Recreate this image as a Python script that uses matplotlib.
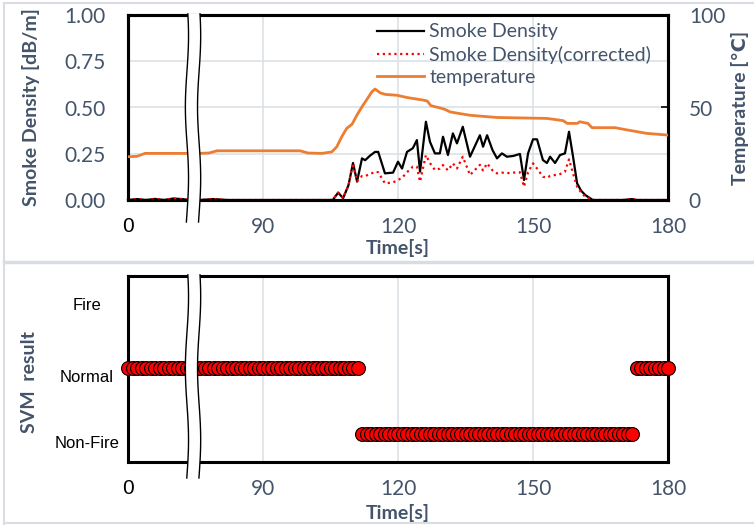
import numpy as np
import matplotlib.pyplot as plt
from matplotlib.lines import Line2D
from matplotlib.patches import Polygon
from matplotlib.transforms import ScaledTranslation

# x axis is broken: the first seconds are drawn left of the break (axis units 60..73, labelled "0")
x_ticks = [60, 90, 120, 150, 180]
x_labels = ["0", "90", "120", "150", "180"]
break_x = (73.1, 75.8)

temp_t = [60, 62, 63.8, 70, 76, 78, 79.8, 90, 98.2, 100, 103.1, 105.3, 106.4, 107.5, 108.6,
          109.8, 110.9, 112, 113.1, 114.2, 114.9, 116, 117.1, 119.8, 122, 125.6, 126.5, 127.3,
          129.3, 130.4, 131.6, 133, 136, 142, 153.1, 156.7, 157.6, 159.8, 160.4, 162.2, 163.1,
          168.2, 171.1, 175.3, 180]
temp_c = [23.4, 23.6, 25.2, 25.2, 25.2, 25.4, 26.6, 26.6, 26.6, 25.4, 25.2, 26.0, 28.8, 34.2, 38.7,
          41.0, 46.0, 50.4, 54.4, 58.5, 60.0, 58.0, 57.1, 56.6, 55.4, 54.0, 53.5, 51.0,
          49.8, 49.0, 47.6, 47.0, 45.8, 44.6, 44.1, 42.9, 41.4, 41.4, 42.3, 41.4, 39.1,
          39.1, 37.8, 36.0, 35.1]

smoke_t = [60, 62, 64, 66, 68, 70, 72, 73.5, 76, 79, 82, 90, 100, 105.5, 106.7, 107.8, 109, 110,
           110.9, 112, 112.7, 113.8, 114.9, 115.6, 117.1, 118.9, 120, 120.9, 122, 123.3, 124.2,
           124.9, 126.2, 127.1, 128.2, 129.3, 130, 131.1, 132.2, 133.1, 134.4, 136, 138.2, 138.9,
           139.8, 141, 142, 143.1, 144.2, 145.6, 147.1, 148, 148.9, 150, 150.9, 152.2, 153.1,
           153.8, 154.9, 156, 157.1, 158, 158.9, 159.8, 160.7, 161.6, 163.3, 170, 172, 173, 180]
smoke = [0.0, 0.005, 0.0, 0.006, 0.0, 0.008, 0.005, 0.0, 0.0, 0.005, 0.0, 0.0, 0.0, 0.0, 0.04, 0.01,
         0.08, 0.2, 0.1, 0.225, 0.215, 0.24, 0.26, 0.26, 0.144, 0.148, 0.207, 0.17, 0.26, 0.28,
         0.324, 0.153, 0.423, 0.315, 0.252, 0.252, 0.342, 0.243, 0.36, 0.306, 0.396, 0.234, 0.35,
         0.288, 0.35, 0.27, 0.225, 0.252, 0.234, 0.238, 0.249, 0.108, 0.252, 0.328, 0.328, 0.216,
         0.2, 0.234, 0.2, 0.243, 0.252, 0.369, 0.234, 0.09, 0.05, 0.027, 0.0, 0.0, 0.005, 0.0, 0.0]
smoke_corr = [0.0, 0.005, 0.0, 0.006, 0.0, 0.008, 0.005, 0.0, 0.0, 0.005, 0.0, 0.0, 0.0, 0.0, 0.04,
              0.01, 0.08, 0.2, 0.1, 0.13, 0.13, 0.14, 0.153, 0.15, 0.09, 0.095, 0.108, 0.12, 0.15,
              0.18, 0.18, 0.099, 0.243, 0.2, 0.162, 0.17, 0.189, 0.16, 0.198, 0.17, 0.234, 0.135,
              0.19, 0.16, 0.198, 0.16, 0.144, 0.148, 0.145, 0.148, 0.15, 0.072, 0.15, 0.198, 0.17,
              0.126, 0.12, 0.13, 0.135, 0.14, 0.153, 0.22, 0.144, 0.072, 0.04, 0.018, 0.0, 0.0,
              0.005, 0.0, 0.0]

svm_classes = ["Non-Fire", "Normal", "Fire"]
svm_t0 = 60  # one result per second from here
svm_runs = [(1, 52), (0, 61), (1, 8)]  # (class index, number of samples)

TXT = "#44546A"
GRID = "#DCE1E8"
TICK_FS = 15
LABEL_FS = 14
plt.rcParams['font.family'] = ['Lato', 'DejaVu Sans']

W, H = 754, 525
fig = plt.figure(figsize=(W / 100, H / 100), dpi=100)


def px_rect(left, top, right, bottom):
    return [left / W, 1 - bottom / H, (right - left) / W, (bottom - top) / H]


def draw_break(ax, y0, y1):
    y = np.linspace(y0, y1, 60)
    wave = 0.35 * np.sin(2 * np.pi * 1.3 * y + 0.6)
    xl, xr = break_x[0] + wave, break_x[1] + wave
    pts = np.column_stack([np.r_[xl, xr[::-1]], np.r_[y, y[::-1]]])
    tr = ax.get_xaxis_transform()
    ax.add_patch(Polygon(pts, closed=True, facecolor="white", edgecolor="none",
                         transform=tr, clip_on=False, zorder=10))
    for xx in (xl, xr):
        ax.add_line(Line2D(xx, y, color="black", lw=1.0, transform=tr, clip_on=False, zorder=11))


def style_x(ax):
    ax.set_xlim(60, 180)
    ax.set_xticks(x_ticks)
    ax.set_xticklabels(x_labels)
    ax.tick_params(axis="x", length=0, pad=12, labelsize=TICK_FS, labelcolor=TXT)
    first = ax.get_xticklabels()[0]
    first.set_color("black")
    first.set_fontfamily("Liberation Sans")
    first.set_fontsize(15)
    for xg in x_ticks[1:-1]:
        ax.axvline(xg, color=GRID, lw=1.2, zorder=0)
    for s in ax.spines.values():
        s.set_linewidth(2.2)
        s.set_color("black")


# ---- top: smoke density and temperature
ax1 = fig.add_axes(px_rect(128, 15, 668, 200))
ax1t = ax1.twinx()
style_x(ax1)
ax1.set_ylim(0, 1)
ax1.set_yticks([0, 0.25, 0.5, 0.75, 1.0])
ax1.set_yticklabels(["0.00", "0.25", "0.50", "0.75", "1.00"])
ax1.tick_params(axis="y", length=0, pad=16, labelsize=TICK_FS, labelcolor=TXT)
for yg in [0.25, 0.5, 0.75]:
    ax1.axhline(yg, color=GRID, lw=1.2, zorder=0)
h1, = ax1.plot(smoke_t, smoke, color="black", lw=1.6, zorder=3, clip_on=False,
               label="Smoke Density")
h2, = ax1.plot(smoke_t, smoke_corr, color="#FF0000", lw=1.6, ls=(0, (1, 1.6)), zorder=3,
               clip_on=False, label="Smoke Density(corrected)")
ax1.set_ylabel("Smoke Density [dB/m]", fontsize=LABEL_FS, fontweight="bold", color=TXT)
ax1.yaxis.set_label_coords(-0.18, 0.5)
ax1.yaxis.label.set_va("center")
ax1.set_xlabel("Time[s]", fontsize=LABEL_FS, fontweight="bold", color=TXT)
ax1.xaxis.set_label_coords(0.5, -48 / 185)
ax1.xaxis.label.set_va("center")

ax1t.set_ylim(0, 100)
ax1t.set_yticks([0, 50, 100])
ax1t.tick_params(axis="y", direction="in", length=5, width=1.2, pad=15, labelsize=TICK_FS,
                 labelcolor=TXT)
h3, = ax1t.plot(temp_t, temp_c, color="#ED7D31", lw=2.0, zorder=3, label="temperature")
ax1t.set_ylabel("Temperature [\u2103]", fontsize=LABEL_FS, fontweight="bold", color=TXT)
ax1t.yaxis.set_label_coords(1.133, 0.5)
ax1t.yaxis.label.set_va("center")
for s in ax1t.spines.values():
    s.set_linewidth(2.2)
ax1t.legend(handles=[h1, h2, h3], loc="upper left", bbox_to_anchor=(0.461, 0.955),
            frameon=False, fontsize=14, handlelength=2.4, handletextpad=0.3,
            borderpad=0, borderaxespad=0, labelspacing=0.28, labelcolor=TXT)
draw_break(ax1t, -0.119, 1.006)

# ---- bottom: SVM result
ax2 = fig.add_axes(px_rect(128, 276, 668, 462))
style_x(ax2)
svm_y = np.concatenate([[c] * n for c, n in svm_runs])
svm_t = svm_t0 + np.arange(len(svm_y))
ax2.plot(svm_t, svm_y, ls="none", marker="o", ms=10, mfc="#FF0000", mec="black", mew=0.8,
         zorder=3, clip_on=False)
ax2.set_ylim(-0.424, 2.394)
ax2.set_yticks([])
lab_tr = ax2.get_yaxis_transform()
for i, (name, dy) in enumerate(zip(svm_classes, [-9, -9, -3])):
    ax2.text(-0.076, i, name, ha="center", va="center", fontsize=12, color="black",
             family="Liberation Sans",
             transform=lab_tr + ScaledTranslation(0, dy / 100, fig.dpi_scale_trans))
ax2.text(-0.182, 0.43, "SVM  result", rotation=90, ha="center", va="center", fontsize=LABEL_FS,
         fontweight="bold", color=TXT, transform=ax2.transAxes)
ax2.set_xlabel("Time[s]", fontsize=LABEL_FS, fontweight="bold", color=TXT)
ax2.xaxis.set_label_coords(0.5, -51 / 186)
ax2.xaxis.label.set_va("center")
draw_break(ax2, -0.086, 1.006)

# light frames around the two chart blocks
for (xa, ya), (xb, yb), lw in [((4, 3), (754, 3), 1.5), ((4, 3), (4, 524), 1.5),
                               ((4, 262), (754, 262), 2.5), ((4, 523), (754, 523), 1.5)]:
    fig.add_artist(Line2D([xa / W, xb / W], [1 - ya / H, 1 - yb / H], color="#D9DDE3", lw=lw,
                          transform=fig.transFigure))

fig.savefig("out.png", dpi=100)
